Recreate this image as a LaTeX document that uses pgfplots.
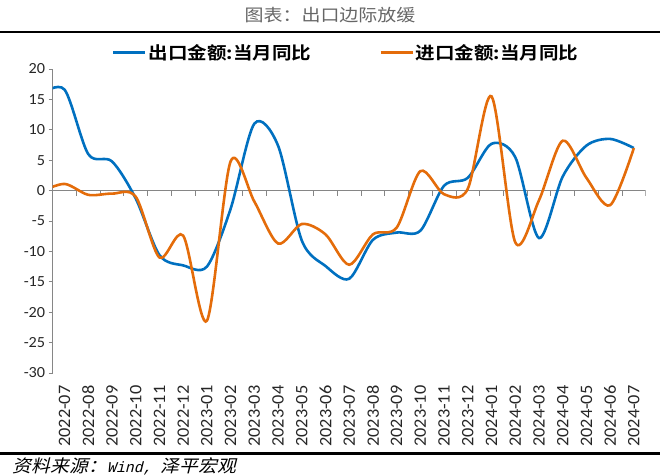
\documentclass[border=0pt]{standalone}
\usepackage{fontspec}
\usepackage{pgfplots}
\pgfplotsset{compat=1.18}
\setmainfont{Carlito}[FakeStretch=1.05]
\newfontfamily\cjk{Noto Sans CJK SC}[FakeStretch=1.12]
\newfontfamily\cjkb{Noto Sans CJK SC Bold}[FakeStretch=1.12]
\newfontfamily\cjki{Noto Sans CJK SC}[FakeSlant=0.25,FakeStretch=1.08]
\newfontfamily\monoi{Liberation Mono}[FakeSlant=0.25]
\definecolor{expblue}{HTML}{0070C0}
\definecolor{imporange}{HTML}{E46C0A}
\definecolor{axgray}{HTML}{868686}
\begin{document}
\begin{tikzpicture}[x=1bp,y=1bp]
\begin{axis}[
  at={(0bp,0bp)}, anchor=south west,
  scale only axis, width=593bp, height=304bp,
  xmin=-0.5, xmax=24.5, ymin=-30, ymax=20,
  axis y line*=left, axis x line*=bottom,
  x axis line style={draw=none},
  y axis line style={axgray, line width=0.8bp},
  ytick={-30,-25,...,20},
  ytick style={axgray, line width=0.8bp},
  tick align=outside, major tick length=4bp,
  xtick={0,...,24},
  xticklabels={2022-07,2022-08,2022-09,2022-10,2022-11,2022-12,2023-01,2023-02,2023-03,2023-04,2023-05,2023-06,2023-07,2023-08,2023-09,2023-10,2023-11,2023-12,2024-01,2024-02,2024-03,2024-04,2024-05,2024-06,2024-07},
  xtick style={draw=none},
  xticklabel shift=5bp,
  xticklabel style={rotate=90, anchor=east, font=\fontsize{17.5}{17.5}\selectfont, text=black!85},
  yticklabel style={font=\fontsize{15.5}{15.5}\selectfont, text=black!85},
  /pgf/number format/assume math mode=true,
  legend style={font=\cjkb\fontsize{17.5}{17.5}\selectfont, draw=none, fill=none,
    legend columns=2, at={(0.495,1)}, anchor=south, yshift=4bp,
    /tikz/every even column/.append style={column sep=66bp}},
  legend image code/.code={\draw[#1] (0bp,0bp) -- (32bp,0bp);},
]
\draw[axgray, line width=0.8bp] (axis cs:-0.5,0) -- (axis cs:24.5,0);
\pgfplotsinvokeforeach{-0.5,0.5,...,24.5}{\draw[axgray, line width=0.8bp] (axis cs:#1,0) -- ++(0bp,-5bp);}
\addplot[expblue, line width=2.6bp, smooth, tension=0.5] coordinates {
(-1,15.8) (0,16.6) (1,6.0) (2,4.8) (3,-1.3) (4,-10.6) (5,-12.3) (6,-12.5) (7,-3.0)
(8,11.0) (9,7.4) (10,-8.2) (11,-12.4) (12,-14.5) (13,-8.1) (14,-6.9) (15,-6.6)
(16,0.8) (17,2.1) (18,7.7) (19,5.5) (20,-7.8) (21,2.3) (22,7.4) (23,8.5) (24,7.0)};
\addlegendentry{出口金额:当月同比}
\addplot[imporange, line width=2.6bp, smooth, tension=0.5] coordinates {
(-1,-0.2) (0,1.1) (1,-0.7) (2,-0.5) (3,-1.0) (4,-11.0) (5,-7.4) (6,-21.4) (7,4.8)
(8,-1.8) (9,-8.7) (10,-5.5) (11,-7.2) (12,-12.2) (13,-7.2) (14,-6.1) (15,3.2)
(16,-0.6) (17,0.3) (18,15.5) (19,-8.5) (20,-1.6) (21,8.2) (22,2.1) (23,-2.4) (24,7.0)};
\addlegendentry{进口金额:当月同比}
\end{axis}
\node[font=\cjk\fontsize{17}{17}\selectfont, text=black!60] at (277.3,358) {图表：出口边际放缓};
\draw[line width=2.5bp] (-52.7,341) -- (607.3,341);
\draw[line width=3bp] (-52.7,-81) -- (607.3,-81);
\node[anchor=west, inner sep=0pt] at (-40,-93.5) {{\cjki\fontsize{17.5}{17.5}\selectfont 资料来源：}{\monoi\fontsize{15}{15}\selectfont Wind, }{\cjki\fontsize{17.5}{17.5}\selectfont 泽平宏观}};
\pgfresetboundingbox
\path[use as bounding box] (-52.7,-102) rectangle (607.3,373);
\end{tikzpicture}
\end{document}
